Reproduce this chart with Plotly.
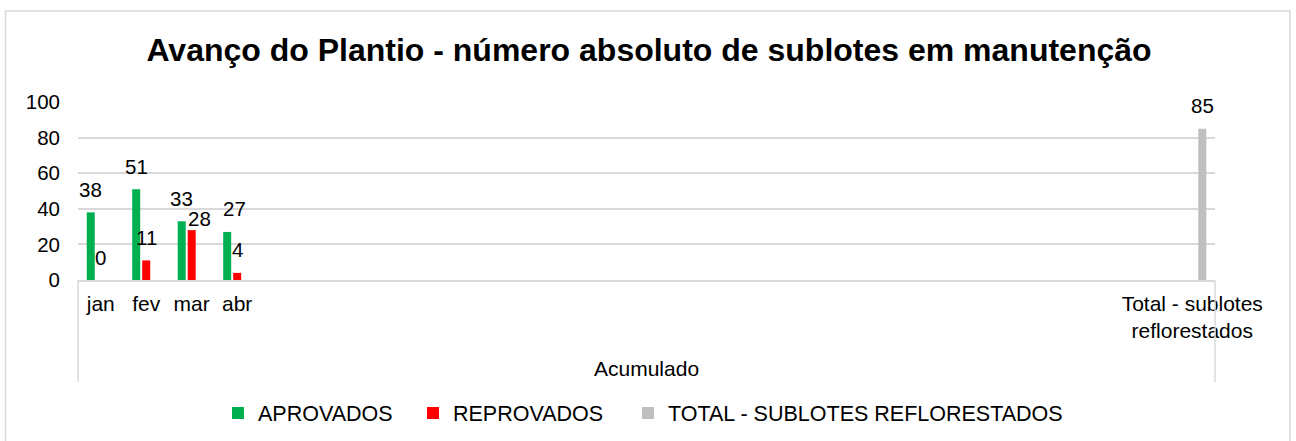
import plotly.graph_objects as go

# ---- data -------------------------------------------------------------
months = ["jan", "fev", "mar", "abr"]
total_label = "Total - sublotes<br>reflorestados"
group_label = "Acumulado"
n_blank_slots = 20  # empty category slots between the months and the total

aprovados = [38, 51, 33, 27]
reprovados = [0, 11, 28, 4]
total_reflorestados = [85]

series_names = ["APROVADOS", "REPROVADOS", "TOTAL - SUBLOTES REFLORESTADOS"]
colors = ["#00B050", "#FF0000", "#BFBFBF"]

# blank labels must be unique strings so each one keeps its own slot
blank_slots = [" " * (i + 1) for i in range(n_blank_slots)]
categories = months + blank_slots + [total_label]

# ---- layout geometry (pixels) -----------------------------------------
W, H = 1296, 441
L, R, T, B = 78, 1215, 102, 280
FONT = "Liberation Sans, Arial, sans-serif"
GRID = "#D9D9D9"


def px_x(px):
    return (px - L) / (R - L)


def px_y(py):
    return (B - py) / (B - T)


fig = go.Figure()

fig.add_trace(go.Bar(name=series_names[0], x=months, y=aprovados,
                     marker=dict(color=colors[0], line=dict(width=0)),
                     legend="legend", showlegend=True))
fig.add_trace(go.Bar(name=series_names[1], x=months, y=reprovados,
                     marker=dict(color=colors[1], line=dict(width=0)),
                     legend="legend2", showlegend=True))
fig.add_trace(go.Bar(name=series_names[2], x=[total_label], y=total_reflorestados,
                     marker=dict(color=colors[2], line=dict(width=0)),
                     legend="legend3", showlegend=True))

# value labels above each bar (slot offset within the group, plus a few hand nudges)
slot_shift = {0: -10, 1: 0, 2: 10}
label_nudge = {(1, "mar"): (8, -11), (0, "abr"): (7, 0)}
annotations = []
for s_idx, (xs, ys) in enumerate([(months, aprovados), (months, reprovados),
                                  ([total_label], total_reflorestados)]):
    for cat, val in zip(xs, ys):
        dx, dy = label_nudge.get((s_idx, cat), (0, 0))
        annotations.append(dict(
            x=cat, y=val, xref="x", yref="y", text=str(val), showarrow=False,
            xanchor="center", yanchor="middle",
            xshift=slot_shift[s_idx] + dx, yshift=23 + dy,
            font=dict(family=FONT, size=20.5, color="#000000")))

# outer category label
annotations.append(dict(
    x=0.5, y=px_y(368), xref="paper", yref="paper", text=group_label,
    showarrow=False, xanchor="center", yanchor="middle",
    font=dict(family=FONT, size=21, color="#000000")))

shapes = [
    # chart frame
    dict(type="rect", xref="paper", yref="paper",
         x0=px_x(5.5), x1=px_x(1290), y0=px_y(11), y1=px_y(470),
         line=dict(color=GRID, width=1.5), fillcolor="rgba(0,0,0,0)", layer="below"),
    # category group dividers
    dict(type="line", xref="paper", yref="paper", x0=0, x1=0, y0=0, y1=px_y(382),
         line=dict(color=GRID, width=1.5)),
    dict(type="line", xref="paper", yref="paper", x0=1, x1=1, y0=0, y1=px_y(382),
         line=dict(color=GRID, width=1.5)),
]

legend_common = dict(orientation="h", xref="paper", yref="paper",
                     yanchor="middle", xanchor="left", y=px_y(413),
                     bgcolor="rgba(0,0,0,0)", borderwidth=0,
                     font=dict(family=FONT, size=21.5, color="#000000"))

fig.update_layout(
    width=W, height=H, showlegend=True,
    margin=dict(l=L, r=W - R, t=T, b=H - B, autoexpand=False),
    paper_bgcolor="#FFFFFF", plot_bgcolor="#FFFFFF",
    barmode="group", bargap=0.34, bargroupgap=0.2,
    title=dict(text="<b>Avanço do Plantio - número absoluto de sublotes em manutenção</b>",
               x=649 / W, xanchor="center", xref="container",
               y=1 - 50 / H, yanchor="middle", yref="container",
               font=dict(family=FONT, size=32, color="#000000")),
    xaxis=dict(type="category", categoryorder="array", categoryarray=categories,
               range=[-0.5, len(categories) - 0.5], showgrid=False, zeroline=False,
               showline=True, linecolor=GRID, linewidth=1.5, ticks="",
               ticklabelstandoff=4, tickangle=0,
               tickfont=dict(family=FONT, size=21, color="#000000")),
    yaxis=dict(range=[0, 100], dtick=20, tick0=0, showgrid=True, gridcolor=GRID,
               gridwidth=1.5, zeroline=False, showline=False, ticks="",
               ticklabelstandoff=17,
               tickfont=dict(family=FONT, size=20.5, color="#000000")),
    legend=dict(legend_common, x=px_x(218)),
    legend2=dict(legend_common, x=px_x(413)),
    legend3=dict(legend_common, x=px_x(628)),
    annotations=annotations,
    shapes=shapes,
)

fig.write_html("out.html")
